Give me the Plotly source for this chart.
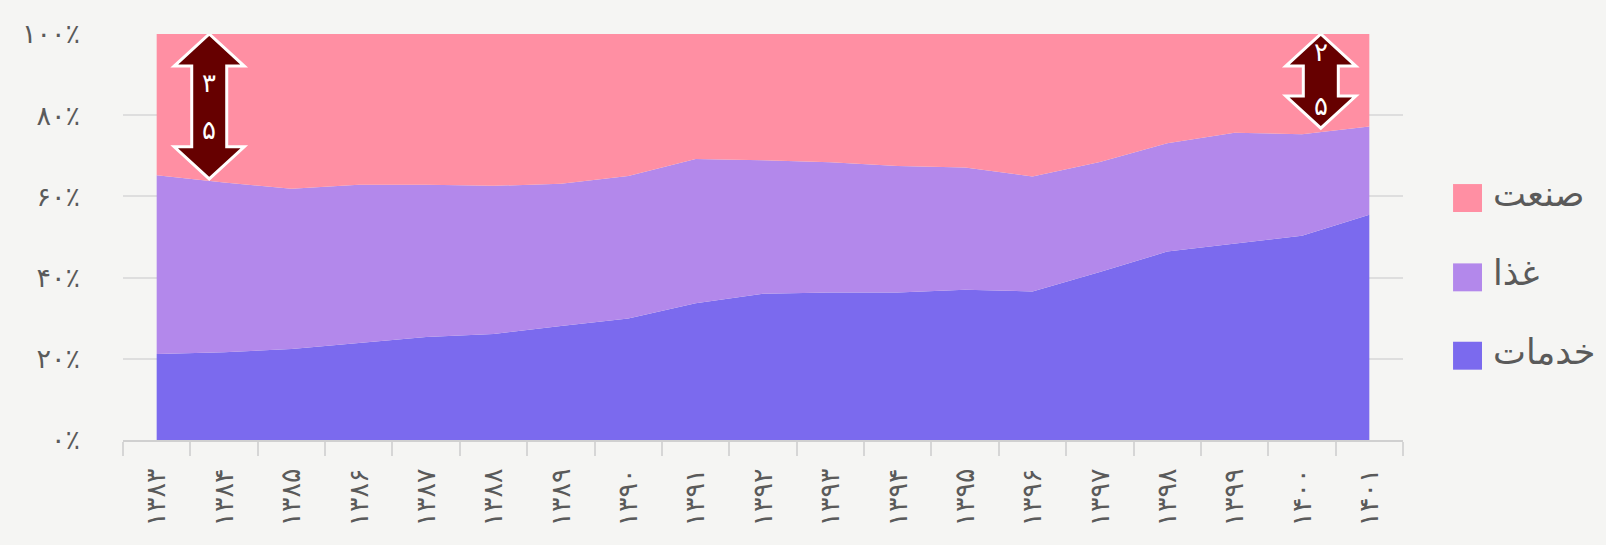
import plotly.graph_objects as go

# سال‌ها (محور افقی)
years = ["۱۳۸۳", "۱۳۸۴", "۱۳۸۵", "۱۳۸۶", "۱۳۸۷", "۱۳۸۸", "۱۳۸۹", "۱۳۹۰", "۱۳۹۱", "۱۳۹۲",
         "۱۳۹۳", "۱۳۹۴", "۱۳۹۵", "۱۳۹۶", "۱۳۹۷", "۱۳۹۸", "۱۳۹۹", "۱۴۰۰", "۱۴۰۱"]

# سهم هر بخش (درصد)
khadamat = [21.2, 21.6, 22.4, 23.9, 25.4, 26.1, 28.1, 29.9, 33.7, 36.0,
            36.3, 36.3, 37.0, 36.6, 41.4, 46.4, 48.3, 50.3, 55.5]
ghaza = [44.0, 41.8, 39.5, 39.0, 37.5, 36.5, 35.0, 35.1, 35.5, 32.9,
         32.1, 31.2, 30.1, 28.3, 27.1, 26.7, 27.4, 25.0, 21.7]
sanat = [34.8, 36.6, 38.1, 37.1, 37.1, 37.4, 36.9, 35.0, 30.8, 31.1,
         31.6, 32.5, 32.9, 35.1, 31.5, 26.9, 24.3, 24.7, 22.8]

series_names = ["خدمات", "غذا", "صنعت"]
series_values = [khadamat, ghaza, sanat]
colors = ["#7B6AEE", "#B388EB", "#FF8FA3"]

y_ticks = [0, 20, 40, 60, 80, 100]
y_tick_text = ["۰٪", "۲۰٪", "۴۰٪", "۶۰٪", "۸۰٪", "۱۰۰٪"]

# فلش‌های دوسر روی بخش صنعت
arrow_x = [0.78, 17.28]
arrow_top = [100, 100]
arrow_bottom = [64.3, 76.8]
arrow_labels = [["۳", "۵"], ["۲", "۵"]]
arrow_label_y = [[87.9, 76.4], [95.6, 82.3]]

FONT = "DejaVu Sans"
BG = "#F5F5F3"
TEXT = "#5a5a5a"

fig = go.Figure()
for name, vals, col in zip(series_names, series_values, colors):
    fig.add_trace(go.Scatter(
        x=years, y=vals, name=name, mode="lines",
        stackgroup="one", groupnorm="percent",
        line=dict(width=0, color=col), fillcolor=col,
        showlegend=False, hoverinfo="skip",
    ))

# arrows: x in pixels around anchor, y in data units
hw, sw, hh = 35, 17.5, 7.9
for xa, top, bot, labs, laby in zip(arrow_x, arrow_top, arrow_bottom, arrow_labels, arrow_label_y):
    pts = [(0, top), (hw, top - hh), (sw, top - hh), (sw, bot + hh), (hw, bot + hh), (0, bot),
           (-hw, bot + hh), (-sw, bot + hh), (-sw, top - hh), (-hw, top - hh)]
    path = "M " + " L ".join(f"{px},{py}" for px, py in pts) + " Z"
    fig.add_shape(type="path", path=path, xref="x2", yref="y", xsizemode="pixel", xanchor=xa,
                  fillcolor="#660000", line=dict(color="white", width=3), layer="above")
    for t, ty in zip(labs, laby):
        fig.add_annotation(x=xa, y=ty, xref="x2", yref="y", text=t, showarrow=False,
                           font=dict(family=FONT, size=26, color="white"))

# legend (top item = top band)
leg_y = [0.596, 0.4006, 0.2076]
for name, col, ly in zip(reversed(series_names), reversed(colors), leg_y):
    fig.add_shape(type="rect", xref="paper", yref="paper", x0=1.0391, x1=1.0617,
                  y0=ly - 0.0344, y1=ly + 0.0344, fillcolor=col, line=dict(width=0))
    fig.add_annotation(x=1.0688, y=ly + 0.01, xref="paper", yref="paper", text=name, showarrow=False,
                       xanchor="left", yanchor="middle",
                       font=dict(family=FONT, size=35, color=TEXT))

fig.update_layout(
    width=1606, height=545,
    margin=dict(l=123, r=203, t=34, b=105),
    paper_bgcolor=BG, plot_bgcolor=BG,
    font=dict(family=FONT, color=TEXT),
    showlegend=False,
    xaxis=dict(
        type="category", range=[-0.5, 18.5], tickson="boundaries",
        ticks="outside", ticklen=14, tickwidth=1.5, tickcolor="#d6d6d6",
        showline=True, linecolor="#d0d0d0", linewidth=1.5,
        showgrid=False, tickangle=-90, ticklabelstandoff=16,
        tickfont=dict(size=27, color=TEXT), automargin=False,
    ),
    xaxis2=dict(overlaying="x", range=[-0.5, 18.5], visible=False),
    yaxis=dict(
        range=[0, 100], tickvals=y_ticks, ticktext=y_tick_text,
        showgrid=True, gridcolor="#dedede", gridwidth=1.5, zeroline=False,
        showline=False, ticks="", ticklabelstandoff=42,
        tickfont=dict(size=27, color=TEXT), automargin=False,
    ),
)

fig.write_html("out.html", config={"displayModeBar": False},
               post_script="document.body.style.margin='0';document.body.style.background='#F5F5F3';")
